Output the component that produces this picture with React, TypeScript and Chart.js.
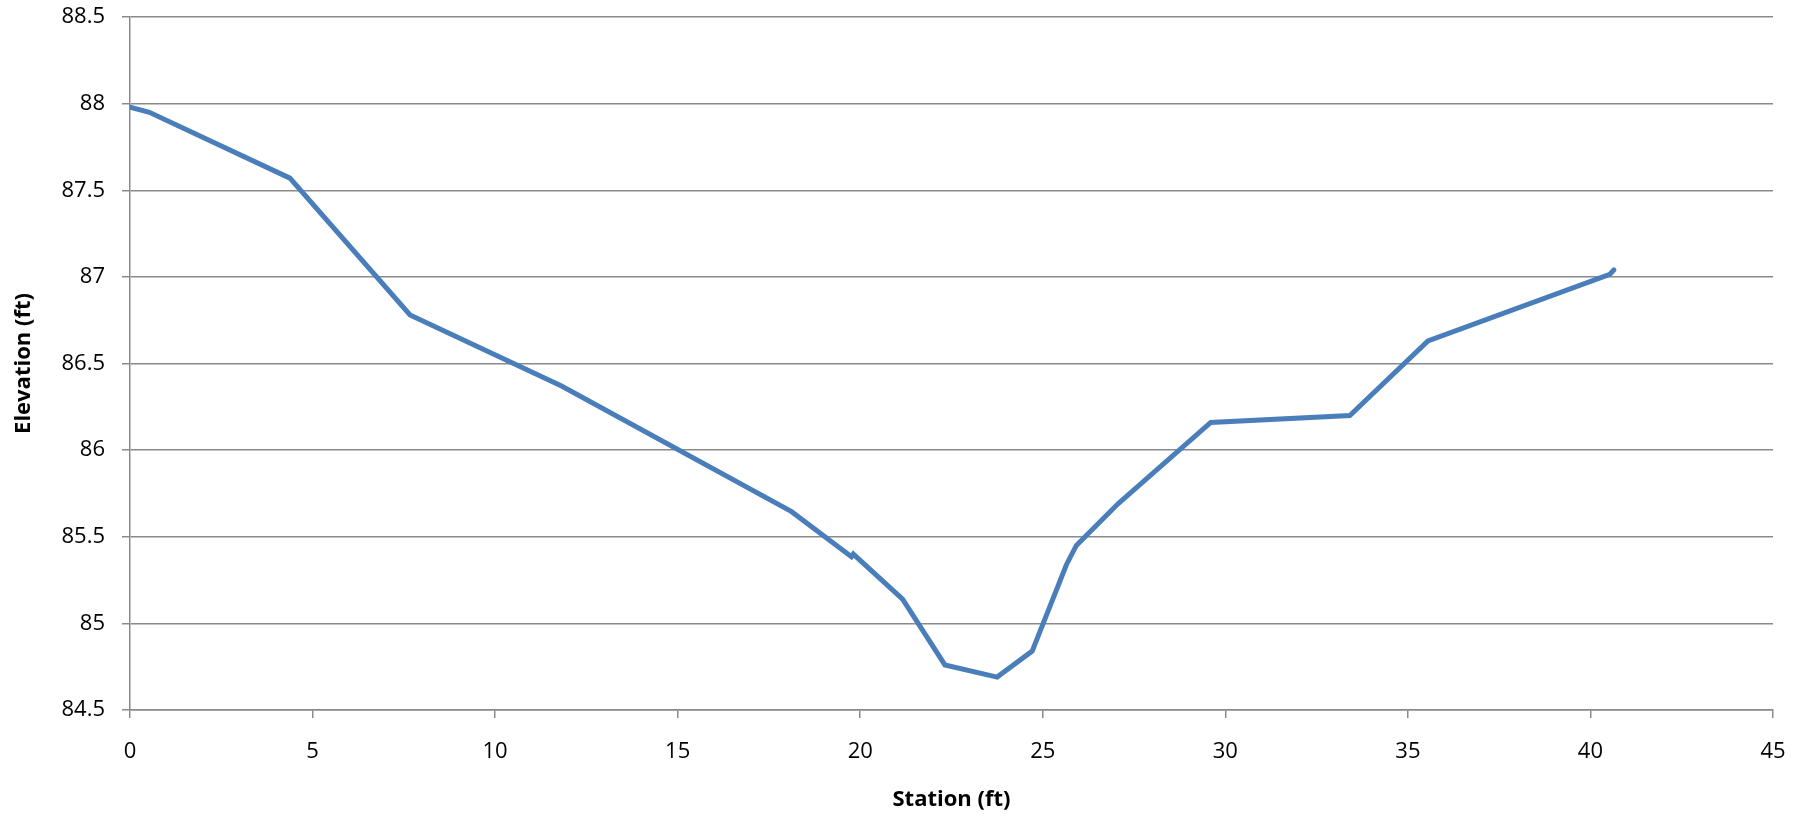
import React, { useEffect, useRef } from "react";
import { Chart, registerables } from "chart.js";

Chart.register(...registerables);

const stationFt = [0, 0.53, 4.38, 7.67, 11.82, 18.12, 19.76, 19.81, 21.16, 22.32, 23.75, 24.71, 25.65, 25.92, 27.06, 29.6, 33.41, 35.55, 40.53, 40.64];
const elevationFt = [87.98, 87.95, 87.57, 86.78, 86.37, 85.645, 85.385, 85.4, 85.14, 84.76, 84.69, 84.84, 85.34, 85.45, 85.69, 86.16, 86.2, 86.63, 87.015, 87.04];
const xAxisTitle = "Station (ft)";
const yAxisTitle = "Elevation (ft)";
const xRange = { min: 0, max: 45, step: 5 };
const yRange = { min: 84.5, max: 88.5, step: 0.5 };

const W = 1812;
const H = 822;
const FONT = "'Open Sans', 'Liberation Sans', sans-serif";
const GRID = "#8a8a8a";

export default function App() {
  const ref = useRef<HTMLCanvasElement | null>(null);

  useEffect(() => {
    if (!ref.current) return;
    const points = stationFt.map((x, i) => ({ x, y: elevationFt[i] }));
    const chart = new Chart(ref.current, {
      type: "scatter",
      data: {
        datasets: [
          {
            data: points,
            showLine: true,
            borderColor: "#4a7ebb",
            backgroundColor: "#4a7ebb",
            borderWidth: 5,
            pointRadius: 0,
            pointHoverRadius: 0,
            borderCapStyle: "round",
            borderJoinStyle: "miter",
            tension: 0,
          },
        ],
      },
      options: {
        responsive: false,
        animation: false,
        devicePixelRatio: 1,
        layout: { padding: { top: 17, right: 39, left: 0, bottom: 0 } },
        plugins: { legend: { display: false }, tooltip: { enabled: false } },
        scales: {
          x: {
            type: "linear",
            min: xRange.min,
            max: xRange.max,
            afterFit: (s: any) => {
              s.height = 112;
              s.paddingLeft = 0;
              s.paddingRight = 0;
            },
            ticks: {
              stepSize: xRange.step,
              color: "#000",
              padding: 21,
              font: { family: FONT, size: 22 },
              maxRotation: 0,
              callback: (v: any) => String(Number(v)),
            },
            grid: {
              drawOnChartArea: false,
              drawTicks: true,
              tickLength: 8,
              color: GRID,
              lineWidth: 1.5,
            },
            border: { display: true, color: GRID, width: 1.5 },
            title: {
              display: true,
              text: xAxisTitle,
              color: "#000",
              font: { family: FONT, size: 22, weight: "bold" },
              padding: { top: 0, bottom: 9 },
            },
          },
          y: {
            type: "linear",
            min: yRange.min,
            max: yRange.max,
            afterFit: (s: any) => {
              s.width = 130;
              s.paddingTop = 0;
              s.paddingBottom = 0;
            },
            ticks: {
              stepSize: yRange.step,
              color: "#000",
              padding: 17,
              font: { family: FONT, size: 22 },
              callback: (v: any) => String(Number(Number(v).toFixed(2))),
            },
            grid: {
              drawOnChartArea: true,
              drawTicks: true,
              tickLength: 8,
              color: GRID,
              lineWidth: 1.5,
            },
            border: { display: true, color: GRID, width: 1.5 },
            title: {
              display: true,
              text: yAxisTitle,
              color: "#000",
              font: { family: FONT, size: 22, weight: "bold" },
              padding: { top: 11, bottom: 0 },
            },
          },
        },
      },
    });
    return () => chart.destroy();
  }, []);

  return (
    <div style={{ position: "fixed", left: 0, top: 0, width: W, height: H, background: "#fff" }}>
      <canvas ref={ref} width={W} height={H} style={{ width: W, height: H, display: "block" }} />
    </div>
  );
}
